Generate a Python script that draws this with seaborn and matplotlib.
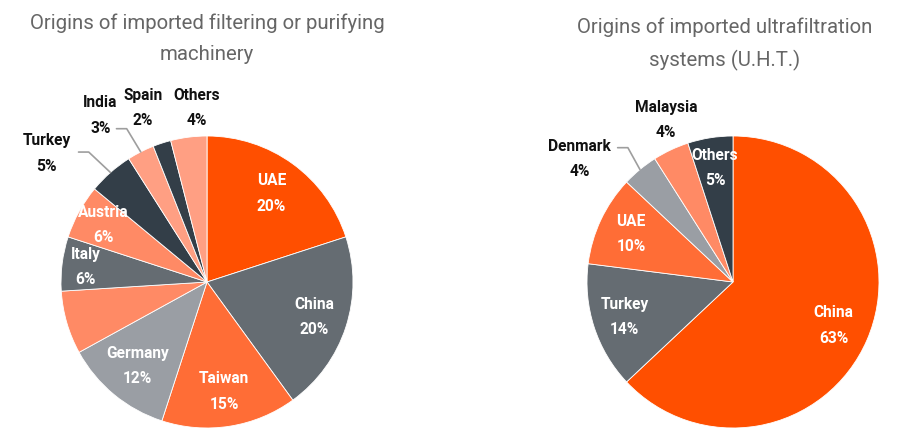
import matplotlib
matplotlib.use("Agg")
import matplotlib.pyplot as plt
import numpy as np
import seaborn as sns

# -------------------------------------------------------------------------
# Data
# -------------------------------------------------------------------------
filter_countries = ["UAE", "China", "Taiwan", "Germany", "", "Italy",
                    "Austria", "Turkey", "India", "Spain", "Others"]
filter_shares = [20, 20, 15, 12, 7, 6, 6, 5, 3, 2, 4]

uht_countries = ["China", "Turkey", "UAE", "Denmark", "Malaysia", "Others"]
uht_shares = [63, 14, 10, 4, 4, 5]

# -------------------------------------------------------------------------
# Style
# -------------------------------------------------------------------------
ORANGE = "#FF4F00"
ORANGE2 = "#FF6D36"
SALMON = "#FF8A65"
SALMON_LT = "#FF9F83"
GRAY = "#656C72"
GRAY_LT = "#9A9EA4"
NAVY = "#333E48"

filter_colors = [ORANGE, GRAY, ORANGE2, GRAY_LT, SALMON, GRAY,
                 SALMON, NAVY, SALMON_LT, NAVY, SALMON_LT]
uht_colors = [ORANGE, GRAY, ORANGE2, GRAY_LT, SALMON, NAVY]

# label placement: inner labels by radius, outer ones by position (+ leader elbow)
filter_labels = {
    "UAE": ("in", 0.75), "China": ("in", 0.77), "Taiwan": ("in", 0.76),
    "Germany": ("in", 0.75), "Italy": ("in", 0.84), "Austria": ("in", 0.81),
    "Turkey": ("out", (-1.10, 0.88), (-0.81, 0.89), (-0.88, 0.89)),
    "India": ("out", (-0.73, 1.14), (-0.55, 1.05), (-0.62, 1.05)),
    "Spain": ("out", (-0.44, 1.19), None, None),
    "Others": ("out", (-0.07, 1.19), None, None),
}
uht_labels = {
    "China": ("in", 0.75), "Turkey": ("in", 0.78), "UAE": ("in", 0.77),
    "Others": ("in", 0.79),
    "Denmark": ("out", (-1.05, 0.84), (-0.72, 0.92), (-0.79, 0.92)),
    "Malaysia": ("out", (-0.46, 1.11), None, None),
}

sns.set_theme(style="white")
plt.rcParams["font.family"] = ["Roboto", "DejaVu Sans"]

R_PX = 146          # pie radius in pixels
HALF = 1.4          # half extent of each axes in radius units
W, H = 900, 442
LABEL_SIZE = 11.2


def _pie_axes(fig, cx, cy):
    size = 2 * HALF * R_PX
    ax = fig.add_axes([(cx - size / 2) / W, (H - cy - size / 2) / H,
                       size / W, size / H])
    return ax


def _draw_pie(ax, names, shares, colors, label_spec):
    wedges, _ = ax.pie(shares, colors=colors, startangle=90, counterclock=False,
                       radius=1.0,
                       wedgeprops=dict(edgecolor="white", linewidth=0.6))
    total = sum(shares)
    for w, name, share in zip(wedges, names, shares):
        if name not in label_spec:
            continue
        spec = label_spec[name]
        mid = np.deg2rad((w.theta1 + w.theta2) / 2)
        text = f"{name}\n{round(100 * share / total)}%"
        if spec[0] == "in":
            r = spec[1]
            ax.text(r * np.cos(mid), r * np.sin(mid), text, color="white",
                    fontsize=LABEL_SIZE, fontweight="bold", ha="center",
                    va="center", linespacing=1.85)
        else:
            (tx, ty), elbow, end = spec[1], spec[2], spec[3]
            ax.text(tx, ty, text, color="#111111", fontsize=LABEL_SIZE,
                    fontweight="bold", ha="center", va="center",
                    linespacing=1.85)
            if elbow is not None:
                ex, ey = np.cos(mid), np.sin(mid)
                ax.plot([ex, elbow[0], end[0]], [ey, elbow[1], end[1]],
                        color="#9E9E9E", linewidth=1.2)
    # pie() sets its own limits, so fix them afterwards
    ax.set_xlim(-HALF, HALF)
    ax.set_ylim(-HALF, HALF)
    ax.set_aspect("equal")
    ax.axis("off")


fig = plt.figure(figsize=(W / 100, H / 100), dpi=100)

ax_left = _pie_axes(fig, 207, 282)
_draw_pie(ax_left, filter_countries, filter_shares, filter_colors, filter_labels)

ax_right = _pie_axes(fig, 733, 282)
_draw_pie(ax_right, uht_countries, uht_shares, uht_colors, uht_labels)

fig.text(207 / W, 1 - 39 / H,
         "Origins of imported filtering or purifying\nmachinery",
         ha="center", va="center", fontsize=14.7, color="#666666",
         linespacing=1.8)
fig.text(725 / W, 1 - 44 / H,
         "Origins of imported ultrafiltration\nsystems (U.H.T.)",
         ha="center", va="center", fontsize=14.7, color="#666666",
         linespacing=1.8)

fig.savefig("out.png", dpi=100, facecolor="white")
plt.close(fig)
